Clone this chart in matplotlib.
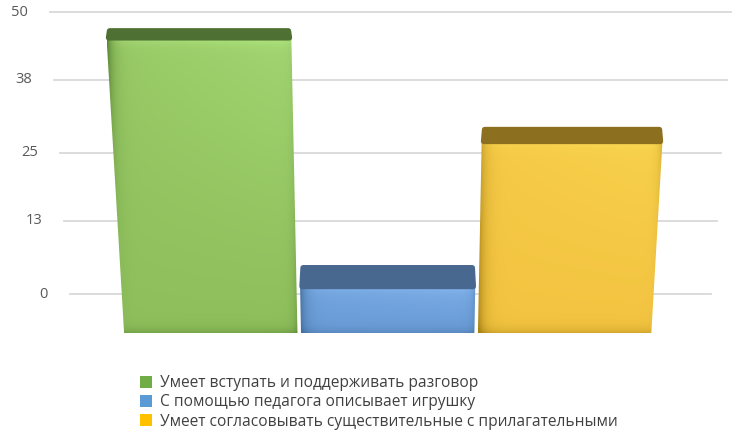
import numpy as np
import matplotlib
matplotlib.use('Agg')
import matplotlib.pyplot as plt
from matplotlib.patches import Polygon, Patch

# данные
categories = ['Умеет вступать и поддерживать разговор',
              'С помощью педагога описывает игрушку',
              'Умеет согласовывать существительные с прилагательными']
values = [47, 5, 29.5]
ticks = [0, 13, 25, 38, 50]

legend_colors = ['#70AD47', '#5B9BD5', '#FFC000']
face_base = ['#8FBF5C', '#6B9DD8', '#F3C441']
face_light = ['#AADF7A', '#80B1EA', '#FAD650']
face_dark = ['#557F31', '#44709F', '#A98315']
cap_colors = ['#4E7032', '#49688F', '#8C7020']

W, H = 742, 438
CX = 390.5

plt.rcParams['font.family'] = ['Open Sans', 'DejaVu Sans']
fig = plt.figure(figsize=(W / 100, H / 100), dpi=100)


def rect(l, t, r, b):
    # пиксели (от верхнего края) -> доли фигуры
    return [l / W, 1 - b / H, (r - l) / W, (b - t) / H]


# задняя стенка: сетка и подписи оси
ax_back = fig.add_axes(rect(49.5, 12, 731.5, 294))
ax_back.set_xlim(0, 1)
ax_back.set_ylim(0, 50)
ax_back.axis('off')

# передняя плоскость столбцов
floor = -16 / 5.92
ax_front = fig.add_axes(rect(103, 317 - 50 * 5.92, 672, 333))
ax_front.set_xlim(-0.5, 2.5)
ax_front.set_ylim(floor, 50)
ax_front.axis('off')

# холст в пикселях для рисования
ax = fig.add_axes([0, 0, 1, 1])
ax.set_xlim(0, W)
ax.set_ylim(H, 0)
ax.axis('off')
ax.patch.set_visible(False)


def to_px(axis, x, y):
    d = axis.transData.transform((x, y))
    return d[0], H - d[1]


def warp(x, y):
    # лёгкая перспектива: низ уже верха
    f = 1 - 0.000208 * (y - 10)
    return CX + (x - CX) * f, y


# сетка
for v in ticks:
    xl, y = to_px(ax_back, 0, v)
    xr, _ = to_px(ax_back, 1, v)
    xl, _ = warp(xl, y)
    xr, _ = warp(xr, y)
    ax.plot([xl, xr], [y, y], color='#D9D9D9', lw=1.3, zorder=1)
    ax.text(xl - 22, y, str(v), ha='right', va='center', fontsize=10.5,
            color='#595959')

# столбцы
bars = ax_front.bar(range(len(values)), [v - floor for v in values],
                    bottom=floor, width=0.98)


def hex_rgb(c):
    return np.array(matplotlib.colors.to_rgb(c))


for i, r in enumerate(bars):
    r.set_visible(False)
    x0, x1 = r.get_x(), r.get_x() + r.get_width()
    vtop = r.get_y() + r.get_height()
    pb = [to_px(ax_front, x0, floor), to_px(ax_front, x1, floor),
          to_px(ax_front, x1, vtop), to_px(ax_front, x0, vtop)]
    front = [warp(*p) for p in pb]

    # передняя грань с градиентом
    xs = [p[0] for p in front]
    ys = [p[1] for p in front]
    xmin, xmax, ymin, ymax = min(xs), max(xs), min(ys), max(ys)
    nx, ny = int(xmax - xmin) + 1, int(ymax - ymin) + 1
    u = np.linspace(0, 1, nx)[None, :]
    w = np.linspace(0, 1, ny)[:, None]
    base = hex_rgb(face_base[i])
    light = hex_rgb(face_light[i])
    dark = hex_rgb(face_dark[i])
    k_light = np.clip(0.75 * (1 - w) ** 1.3 * (0.4 + 0.6 * u) + 0.6 * np.exp(-w * ny / 5), 0, 1)
    k_dark = np.clip(0.9 * np.exp(-u * nx / 6) + 0.45 * np.exp(-(1 - u) * nx / 4)
                     + 0.4 * np.exp(-(1 - w) * ny / 5), 0, 1)
    img = base[None, None, :] * np.ones((ny, nx, 1))
    img = img + (light - base) * k_light[..., None]
    img = img + (dark - img) * k_dark[..., None]
    img = np.clip(img, 0, 1)
    clip = Polygon(front, closed=True, transform=ax.transData, fill=False,
                   lw=0, joinstyle='round')
    ax.add_patch(clip)
    im = ax.imshow(img, extent=(xmin, xmax, ymax, ymin), interpolation='bilinear',
                   zorder=3, aspect='auto')
    im.set_clip_path(clip)

    # верхняя грань
    _, yb = to_px(ax_back, 0, values[i])
    (fl_x, fl_y), (fr_x, fr_y) = front[3], front[2]
    cap = Polygon([(fl_x + 2, fl_y - 1), (fr_x - 2, fr_y - 1),
                   (fr_x - 3, yb + 2), (fl_x + 3, yb + 2)], closed=True,
                  facecolor=cap_colors[i], edgecolor=cap_colors[i], lw=4,
                  joinstyle='round', zorder=4)
    ax.add_patch(cap)

# легенда
handles = [Patch(facecolor=c, edgecolor='none') for c in legend_colors]
ax.legend(handles, categories, loc='upper left', bbox_to_anchor=(140, 375),
          bbox_transform=ax.transData, frameon=False, fontsize=11.2,
          handlelength=0.8, handleheight=0.8, handletextpad=0.5,
          labelspacing=0.22, borderpad=0, borderaxespad=0, labelcolor='#404040')

fig.savefig('out.png', dpi=100)
